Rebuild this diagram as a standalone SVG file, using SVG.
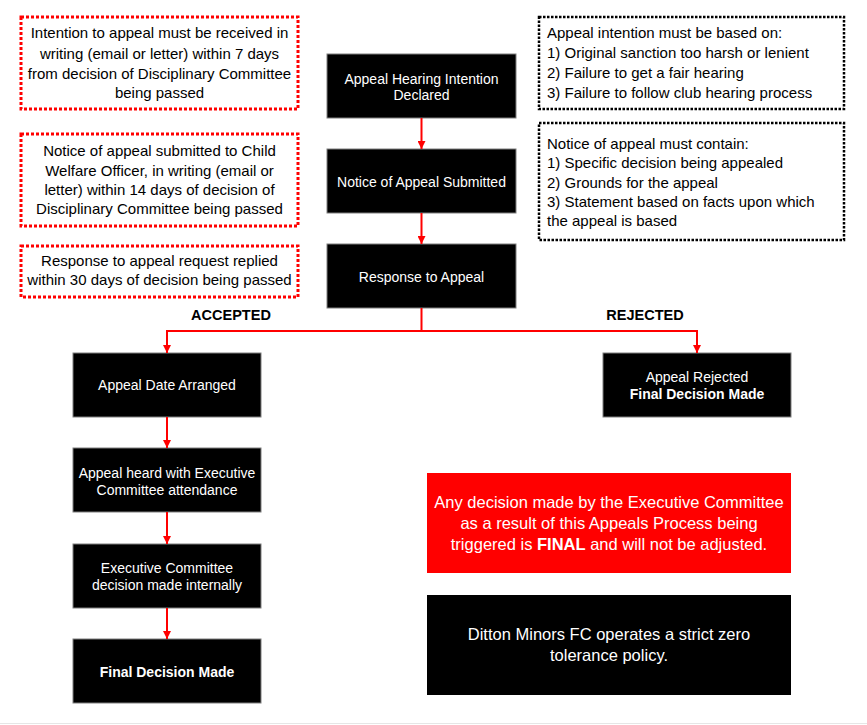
<svg xmlns="http://www.w3.org/2000/svg" width="867" height="725" viewBox="0 0 867 725">
<defs>
<marker id="ah" viewBox="0 0 8 8" refX="8" refY="4" markerWidth="8" markerHeight="8" markerUnits="userSpaceOnUse" orient="auto">
<path d="M0,0 L8,4 L0,8 z" fill="#ff0000"/>
</marker>
</defs>
<style>
text{font-family:"Liberation Sans",Arial,sans-serif}
.rd{fill:#fff;stroke:#ff0000;stroke-width:3;stroke-dasharray:3 2}
.kd{fill:#fff;stroke:#000;stroke-width:2.5;stroke-dasharray:2.5 1.5}
.bx{fill:#000;stroke:#7f7f7f;stroke-width:1}
.t15{font-size:15px;fill:#000}
.w14{font-size:14px;fill:#fff;text-anchor:middle}
.w16{font-size:16.5px;fill:#fff;text-anchor:middle}
.lbl{font-size:14.5px;font-weight:bold;fill:#000;text-anchor:middle}
.c{fill:none;stroke:#ff0000;stroke-width:2}
</style>
<rect x="0" y="0" width="867" height="725" fill="#fff"/>
<line x1="0" y1="723.5" x2="867" y2="723.5" stroke="#e6e6e6" stroke-width="1"/>

<g id="note-intention">
<rect class="rd" x="21" y="17" width="277" height="92"/>
<text class="t15" text-anchor="middle"><tspan x="159.5" y="38">Intention to appeal must be received in</tspan><tspan x="159.5" y="59">writing (email or letter) within 7 days</tspan><tspan x="159.5" y="79">from decision of Disciplinary Committee</tspan><tspan x="159.5" y="98">being passed</tspan></text>
</g>
<g id="note-notice">
<rect class="rd" x="21" y="134" width="277" height="92"/>
<text class="t15" text-anchor="middle"><tspan x="159.5" y="156">Notice of appeal submitted to Child</tspan><tspan x="159.5" y="176">Welfare Officer, in writing (email or</tspan><tspan x="159.5" y="195">letter) within 14 days of decision of</tspan><tspan x="159.5" y="214">Disciplinary Committee being passed</tspan></text>
</g>
<g id="note-response">
<rect class="rd" x="21" y="246" width="277" height="51"/>
<text class="t15" text-anchor="middle"><tspan x="159.5" y="266">Response to appeal request replied</tspan><tspan x="159.5" y="285">within 30 days of decision being passed</tspan></text>
</g>
<g id="note-grounds">
<rect class="kd" x="539" y="17" width="305" height="92"/>
<text class="t15"><tspan x="547" y="38">Appeal intention must be based on:</tspan><tspan x="547" y="58">1) Original sanction too harsh or lenient</tspan><tspan x="547" y="78">2) Failure to get a fair hearing</tspan><tspan x="547" y="98">3) Failure to follow club hearing process</tspan></text>
</g>
<g id="note-contents">
<rect class="kd" x="539" y="123" width="305" height="117"/>
<text class="t15"><tspan x="547" y="149">Notice of appeal must contain:</tspan><tspan x="547" y="168">1) Specific decision being appealed</tspan><tspan x="547" y="188">2) Grounds for the appeal</tspan><tspan x="547" y="207">3) Statement based on facts upon which</tspan><tspan x="547" y="226">the appeal is based</tspan></text>
</g>

<g id="n-declared">
<rect class="bx" x="327" y="54" width="189" height="64"/>
<text class="w14"><tspan x="421.5" y="84">Appeal Hearing Intention</tspan><tspan x="421.5" y="100">Declared</tspan></text>
</g>
<g id="n-submitted">
<rect class="bx" x="327" y="149" width="189" height="64"/>
<text class="w14" x="421.5" y="187">Notice of Appeal Submitted</text>
</g>
<g id="n-response">
<rect class="bx" x="327" y="244" width="189" height="64"/>
<text class="w14" x="421.5" y="282">Response to Appeal</text>
</g>
<g id="n-date">
<rect class="bx" x="73" y="353" width="188" height="64"/>
<text class="w14" x="167" y="390">Appeal Date Arranged</text>
</g>
<g id="n-rejected">
<rect class="bx" x="603" y="353" width="188" height="64"/>
<text class="w14"><tspan x="697" y="382">Appeal Rejected</tspan><tspan x="697" y="399" font-weight="bold">Final Decision Made</tspan></text>
</g>
<g id="n-heard">
<rect class="bx" x="73" y="448" width="188" height="64"/>
<text class="w14"><tspan x="167" y="478">Appeal heard with Executive</tspan><tspan x="167" y="495">Committee attendance</tspan></text>
</g>
<g id="n-internal">
<rect class="bx" x="73" y="544" width="188" height="64"/>
<text class="w14"><tspan x="167" y="573">Executive Committee</tspan><tspan x="167" y="590">decision made internally</tspan></text>
</g>
<g id="n-final">
<rect class="bx" x="73" y="639" width="188" height="64"/>
<text class="w14" x="167" y="677" font-weight="bold">Final Decision Made</text>
</g>

<g id="note-final">
<rect x="427" y="473" width="364" height="100" fill="#ff0000"/>
<text class="w16"><tspan x="609" y="508">Any decision made by the Executive Committee</tspan><tspan x="609" y="529">as a result of this Appeals Process being</tspan><tspan x="609" y="550">triggered is <tspan font-weight="bold">FINAL</tspan> and will not be adjusted.</tspan></text>
</g>
<g id="note-policy">
<rect x="427" y="595" width="364" height="100" fill="#000"/>
<text class="w16"><tspan x="609" y="640">Ditton Minors FC operates a strict zero</tspan><tspan x="609" y="661">tolerance policy.</tspan></text>
</g>

<g id="connectors">
<line class="c" x1="421.5" y1="118" x2="421.5" y2="149" marker-end="url(#ah)"/>
<line class="c" x1="421.5" y1="213" x2="421.5" y2="244" marker-end="url(#ah)"/>
<polyline class="c" points="421.5,308 421.5,331 167,331 167,353" marker-end="url(#ah)"/>
<polyline class="c" points="421.5,331 697,331 697,353" marker-end="url(#ah)"/>
<line class="c" x1="167" y1="417" x2="167" y2="448" marker-end="url(#ah)"/>
<line class="c" x1="167" y1="512" x2="167" y2="544" marker-end="url(#ah)"/>
<line class="c" x1="167" y1="608" x2="167" y2="639" marker-end="url(#ah)"/>
<text class="lbl" x="231" y="320">ACCEPTED</text>
<text class="lbl" x="645" y="320">REJECTED</text>
</g>
</svg>
